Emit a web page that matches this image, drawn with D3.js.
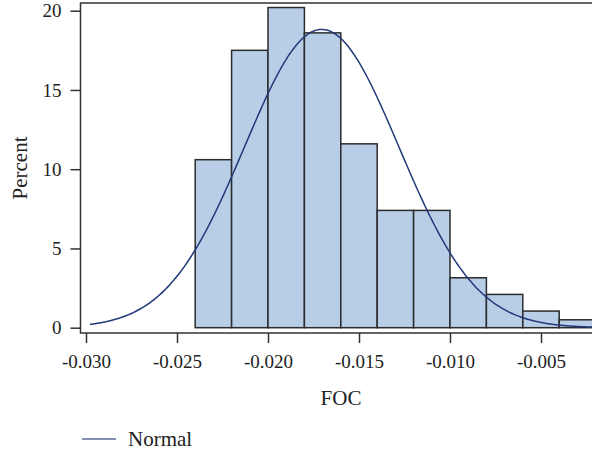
<!DOCTYPE html>
<html>
<head>
<meta charset="utf-8">
<script src="https://cdn.jsdelivr.net/npm/d3@7"></script>
<style>
  body { margin: 0; background: #fff; }
  text { font-family: "Liberation Serif", "DejaVu Serif", serif; fill: #222; }
</style>
</head>
<body>
<svg id="chart"></svg>
<script>
// Histogram bins (left edge of each bin, width 0.002) and percents
const binStarts = [-0.024, -0.022, -0.020, -0.018, -0.016, -0.014, -0.012, -0.010, -0.008, -0.006, -0.004];
const percents = [10.6, 17.5, 20.2, 18.6, 11.6, 7.4, 7.4, 3.15, 2.1, 1.05, 0.5];
const binWidth = 0.002;

// Fitted normal curve parameters
const normalMean = -0.01705;
const normalSigma = 0.00424;

// Tick labels
const xTicks = [-0.030, -0.025, -0.020, -0.015, -0.010, -0.005];
const yTicks = [0, 5, 10, 15, 20];

const width = 592, height = 455;
const plotLeft = 80.5, plotTop = 3, plotBottom = 333, plotRight = 600;

const svg = d3.select("#chart")
    .attr("width", width)
    .attr("height", height);

const x = d3.scaleLinear()
    .domain([-0.030, -0.005])
    .range([86, 541]);

const y = d3.scaleLinear()
    .domain([0, 20])
    .range([327.7, 10.7]);

// Bars
svg.append("g")
    .selectAll("rect")
    .data(binStarts)
    .enter()
    .append("rect")
    .attr("x", d => x(d))
    .attr("y", (d, i) => y(percents[i]))
    .attr("width", d => x(d + binWidth) - x(d))
    .attr("height", (d, i) => y(0) - y(percents[i]))
    .attr("fill", "#b8cde6")
    .attr("stroke", "#2b2b2b")
    .attr("stroke-width", 1.5);

// Normal density (percent per bin)
const curveXs = d3.range(-0.02978, -0.0015, 0.0001);
const density = v => 100 * binWidth / (normalSigma * Math.sqrt(2 * Math.PI)) *
    Math.exp(-0.5 * Math.pow((v - normalMean) / normalSigma, 2));

svg.append("path")
    .datum(curveXs)
    .attr("fill", "none")
    .attr("stroke", "#22397a")
    .attr("stroke-width", 1.5)
    .attr("d", d3.line().x(d => x(d)).y(d => y(density(d))).curve(d3.curveMonotoneX));

// Frame
svg.append("rect")
    .attr("x", plotLeft)
    .attr("y", plotTop)
    .attr("width", plotRight - plotLeft)
    .attr("height", plotBottom - plotTop)
    .attr("fill", "none")
    .attr("stroke", "#333")
    .attr("stroke-width", 1.5);

// X axis
const xAxis = svg.append("g")
    .attr("transform", `translate(0,${plotBottom})`)
    .call(d3.axisBottom(x).tickValues(xTicks).tickSize(10).tickPadding(12)
        .tickFormat(d => d.toFixed(3)));
xAxis.select(".domain").remove();
xAxis.selectAll("line").attr("stroke", "#333").attr("stroke-width", 1.5);
xAxis.selectAll("text").attr("font-size", 19).attr("fill", "#222")
    .attr("font-family", "Liberation Serif, serif");

// Y axis
const yAxis = svg.append("g")
    .attr("transform", `translate(${plotLeft},0)`)
    .call(d3.axisLeft(y).tickValues(yTicks).tickSize(10).tickPadding(9));
yAxis.select(".domain").remove();
yAxis.selectAll("line").attr("stroke", "#333").attr("stroke-width", 1.5);
yAxis.selectAll("text").attr("font-size", 19).attr("fill", "#222")
    .attr("font-family", "Liberation Serif, serif");

// Axis titles
svg.append("text")
    .attr("x", 341)
    .attr("y", 405)
    .attr("text-anchor", "middle")
    .attr("font-size", 21)
    .text("FOC");

svg.append("text")
    .attr("transform", "translate(27,168) rotate(-90)")
    .attr("text-anchor", "middle")
    .attr("font-size", 21)
    .text("Percent");

// Legend
svg.append("line")
    .attr("x1", 82).attr("x2", 116)
    .attr("y1", 439).attr("y2", 439)
    .attr("stroke", "#5a6b9a")
    .attr("stroke-width", 1.5);

svg.append("text")
    .attr("x", 128)
    .attr("y", 446)
    .attr("font-size", 21)
    .text("Normal");
</script>
</body>
</html>
